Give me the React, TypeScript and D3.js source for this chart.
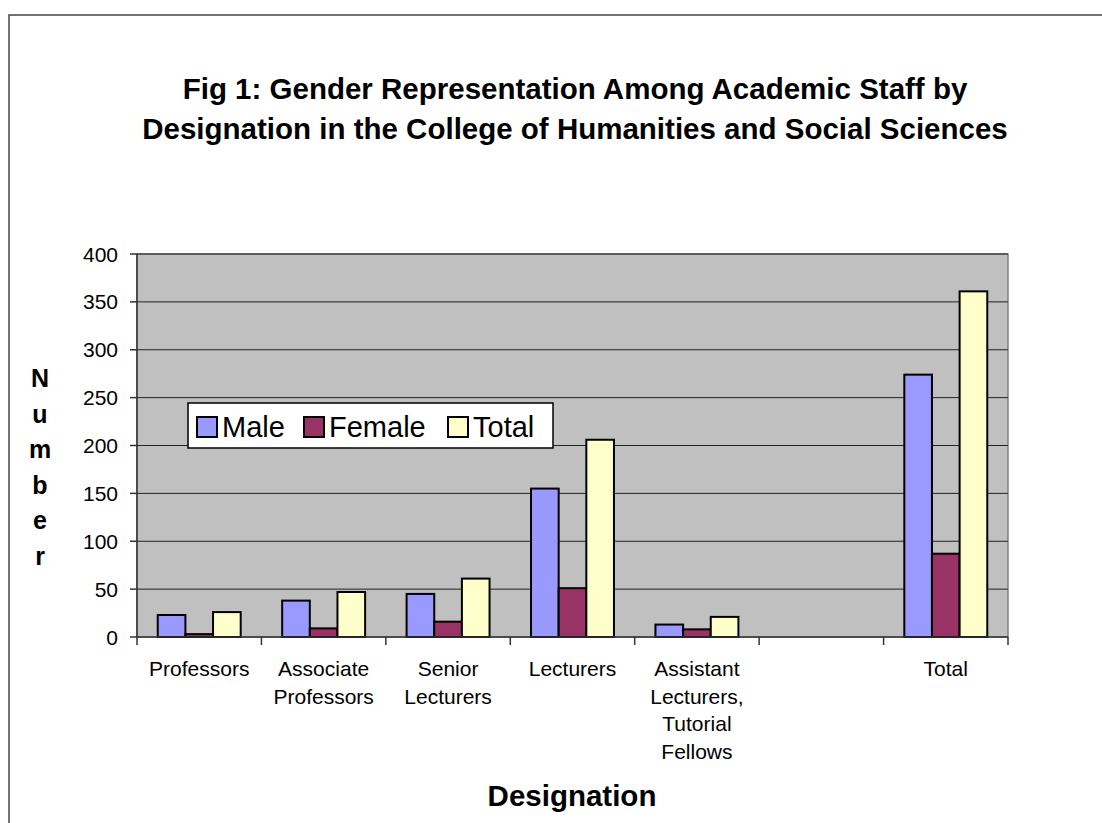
import * as d3 from "d3";

const categories = [
  "Professors",
  "Associate Professors",
  "Senior Lecturers",
  "Lecturers",
  "Assistant Lecturers, Tutorial Fellows",
  "",
  "Total",
];
// label lines as printed under the axis
const categoryLines = [
  ["Professors"],
  ["Associate", "Professors"],
  ["Senior", "Lecturers"],
  ["Lecturers"],
  ["Assistant", "Lecturers,", "Tutorial", "Fellows"],
  [],
  ["Total"],
];
const seriesNames = ["Male", "Female", "Total"];
const maleValues = [23, 38, 45, 155, 13, null, 274];
const femaleValues = [3, 9, 16, 51, 8, null, 87];
const totalValues = [26, 47, 61, 206, 21, null, 361];
const yTickValues = [0, 50, 100, 150, 200, 250, 300, 350, 400];
const colors = ["#9999FF", "#993366", "#FFFFCC"];

export default function App() {
  const width = 1102,
    height = 823;
  const plotLeft = 137,
    plotRight = 1008,
    plotTop = 254,
    plotBottom = 637;
  const font = "Arial, 'Liberation Sans', sans-serif";

  const series = [maleValues, femaleValues, totalValues];

  const xScale = d3
    .scaleBand()
    .domain(categories.map((c, i) => String(i)))
    .range([plotLeft, plotRight])
    .padding(0);
  const barWidth = xScale.bandwidth() / 4.5;
  const xInner = d3
    .scaleBand()
    .domain(seriesNames)
    .range([barWidth * 0.75, barWidth * 3.75]);

  const yScale = d3.scaleLinear().domain([0, 400]).range([plotBottom, plotTop]);

  const boundaries = d3.range(categories.length + 1).map(
    (i) => plotLeft + i * xScale.bandwidth()
  );

  const yLetters = "Number".split("");
  const legendX = [197, 304, 448];

  return (
    <svg
      width={width}
      height={height}
      style={{ position: "absolute", left: 0, top: 0, background: "#fff" }}
      fontFamily={font}
    >
      {/* chart frame */}
      <rect x={9} y={15} width={1300} height={900} fill="#fff" stroke="#444" strokeWidth={1.5} />

      {/* title */}
      <text x={575} y={99} textAnchor="middle" fontSize={29.5} fontWeight="bold">
        Fig 1: Gender Representation Among Academic Staff by
      </text>
      <text x={575} y={139} textAnchor="middle" fontSize={29.5} fontWeight="bold">
        Designation in the College of Humanities and Social Sciences
      </text>

      {/* plot area */}
      <rect
        x={plotLeft}
        y={plotTop}
        width={plotRight - plotLeft}
        height={plotBottom - plotTop}
        fill="#C0C0C0"
        stroke="#808080"
        strokeWidth={1.5}
      />
      {yTickValues.slice(1).map((t) => (
        <line
          key={t}
          x1={plotLeft}
          x2={plotRight}
          y1={yScale(t)}
          y2={yScale(t)}
          stroke="#222"
          strokeWidth={1}
        />
      ))}

      {/* bars */}
      {categories.map((c, i) =>
        series.map((vals, s) => {
          const v = vals[i];
          if (v == null) return null;
          const x = (xScale(String(i)) as number) + (xInner(seriesNames[s]) as number);
          return (
            <rect
              key={`${i}-${s}`}
              x={x}
              y={yScale(v)}
              width={xInner.bandwidth()}
              height={yScale(0) - yScale(v)}
              fill={colors[s]}
              stroke="#000"
              strokeWidth={2}
            />
          );
        })
      )}

      {/* y axis */}
      <line x1={plotLeft} x2={plotLeft} y1={plotTop} y2={plotBottom} stroke="#333" strokeWidth={1.5} />
      {yTickValues.map((t) => (
        <g key={t}>
          <line x1={plotLeft - 7} x2={plotLeft} y1={yScale(t)} y2={yScale(t)} stroke="#333" strokeWidth={1.5} />
          <text
            x={plotLeft - 19}
            y={yScale(t)}
            textAnchor="end"
            dominantBaseline="central"
            fontSize={21}
          >
            {t}
          </text>
        </g>
      ))}

      {/* x axis */}
      <line x1={plotLeft} x2={plotRight} y1={plotBottom} y2={plotBottom} stroke="#333" strokeWidth={1.5} />
      {boundaries.map((b, i) => (
        <line key={i} x1={b} x2={b} y1={plotBottom} y2={plotBottom + 8} stroke="#333" strokeWidth={1.5} />
      ))}
      {categoryLines.map((lines, i) => {
        const cx = (xScale(String(i)) as number) + xScale.bandwidth() / 2;
        return (
          <text key={i} x={cx} y={676} textAnchor="middle" fontSize={21}>
            {lines.map((l, j) => (
              <tspan key={j} x={cx} dy={j === 0 ? 0 : 27.5}>
                {l}
              </tspan>
            ))}
          </text>
        );
      })}

      {/* axis titles */}
      <text x={572} y={806} textAnchor="middle" fontSize={29.5} fontWeight="bold">
        Designation
      </text>
      {yLetters.map((l, i) => (
        <text
          key={i}
          x={40}
          y={378 + i * 35.5}
          textAnchor="middle"
          dominantBaseline="central"
          fontSize={25}
          fontWeight="bold"
        >
          {l}
        </text>
      ))}

      {/* legend */}
      <g>
        <rect x={188} y={403} width={365} height={45} fill="#fff" stroke="#000" strokeWidth={1.5} />
        {seriesNames.map((n, i) => (
          <g key={n}>
            <rect x={legendX[i]} y={417} width={20} height={20} fill={colors[i]} stroke="#000" strokeWidth={2} />
            <text x={legendX[i] + 25} y={427} dominantBaseline="central" fontSize={29}>
              {n}
            </text>
          </g>
        ))}
      </g>
    </svg>
  );
}
